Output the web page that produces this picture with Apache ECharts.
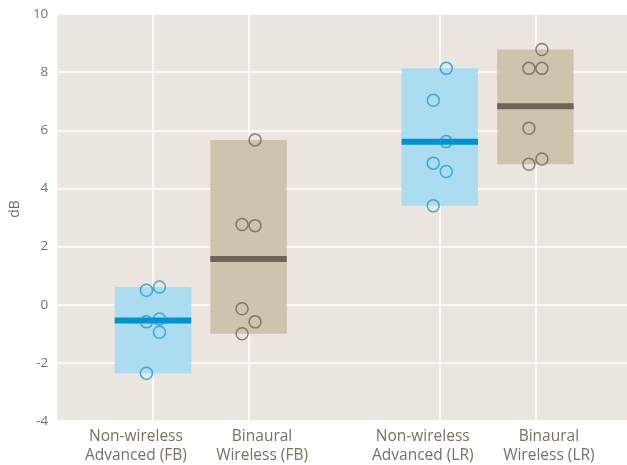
<!DOCTYPE html>
<html>
<head>
<meta charset="utf-8">
<script src="https://cdn.jsdelivr.net/npm/echarts@6/dist/echarts.min.js"></script>
<style>
  html, body { margin: 0; padding: 0; background: #fff; overflow: hidden; }
  /* plot runs past the right edge of the window in the original */
  #chart { width: 634px; height: 465px; }
</style>
</head>
<body>
<div id="chart"></div>
<script>
// category slots, '' = empty slot (gap)
var categories = ['', 'Non-wireless\nAdvanced (FB)', 'Binaural\nWireless (FB)', '', 'Non-wireless\nAdvanced (LR)', 'Binaural\nWireless (LR)', ''];
var yTicks = [-4, -2, 0, 2, 4, 6, 8, 10];

// individual results (dB) per group, side = which column of the jitter (-1 left, 1 right)
var fbNonWireless = [0.50, 0.61, -0.59, -0.49, -0.95, -2.36];
var fbNonWirelessSide = [-1, 1, -1, 1, 1, -1];
var fbBinaural = [5.67, 2.76, 2.72, -0.14, -0.59, -1.00];
var fbBinauralSide = [1, -1, 1, -1, 1, -1];
var lrNonWireless = [8.13, 7.03, 5.61, 4.87, 4.58, 3.40];
var lrNonWirelessSide = [1, -1, 1, -1, 1, -1];
var lrBinaural = [8.78, 8.13, 8.13, 6.07, 5.01, 4.83];
var lrBinauralSide = [1, -1, 1, -1, 1, -1];

var BLUE_BOX = '#a7daf1', BLUE_LINE = '#0091cf', BLUE_DOT = '#1d9ad6';
var TAN_BOX = '#cbbfa8', TAN_LINE = '#6f6456', TAN_DOT = '#6f6456';
var TEXT = '#7b6f64';

function slot(name) {
    return categories.indexOf(name);
}
function summary(name, vals) {
    var sum = 0;
    vals.forEach(function (v) { sum += v; });
    return [slot(name), Math.min.apply(null, vals), Math.max.apply(null, vals), sum / vals.length];
}
function dots(name, vals, side) {
    return vals.map(function (v, i) { return [slot(name) + side[i] * 0.068, v]; });
}

var boxRender = function (fill, line) {
    return function (params, api) {
        var x = api.value(0);
        var p1 = api.coord([x - 0.4, api.value(2)]);
        var p2 = api.coord([x + 0.4, api.value(1)]);
        var pm = api.coord([x - 0.4, api.value(3)]);
        return {
            type: 'group',
            children: [
                {type: 'rect', shape: {x: p1[0], y: p1[1], width: p2[0] - p1[0], height: p2[1] - p1[1]},
                    style: {fill: fill, opacity: 0.93}},
                {type: 'rect', shape: {x: p1[0], y: pm[1] - 3, width: p2[0] - p1[0], height: 6},
                    style: {fill: line}}
            ]
        };
    };
};

var chart = echarts.init(document.getElementById('chart'));
var option = {
    animation: false,
    textStyle: {fontFamily: 'Open Sans'},
    grid: {
        left: 52, right: 0, top: 14, bottom: 42,
        show: true, backgroundColor: '#ebe6df', borderWidth: 0
    },
    xAxis: [{
        type: 'category',
        data: categories,
        boundaryGap: false,
        axisLine: {show: false},
        axisTick: {show: false},
        axisLabel: {
            interval: 0, color: TEXT, fontSize: 15.5, lineHeight: 19, margin: 6,
            // the labels of a pair sit pushed apart from their boxes
            formatter: function (v, i) {
                if (!v) return '';
                var tag = (i === 1 || i === 4) ? 'l' : 'r';
                return v.split('\n').map(function (s) { return '{' + tag + '|' + s + '}'; }).join('\n');
            },
            rich: {
                l: {color: TEXT, fontSize: 15.5, lineHeight: 19, padding: [0, 34, 0, 0]},
                r: {color: TEXT, fontSize: 15.5, lineHeight: 19, padding: [0, 0, 0, 27]}
            }
        },
        splitLine: {
            show: true,
            interval: function (i, v) { return v !== ''; },
            lineStyle: {color: '#ffffff', width: 1.5}
        }
    }, {
        type: 'value',
        min: 0, max: categories.length - 1,
        show: false,
        splitLine: {show: false}
    }],
    yAxis: {
        type: 'value',
        min: yTicks[0], max: yTicks[yTicks.length - 1], interval: 2,
        name: 'dB',
        nameLocation: 'middle',
        nameGap: 32,
        nameTextStyle: {color: TEXT, fontSize: 14, padding: [0, 0, 0, 17]},
        axisLine: {show: false},
        axisTick: {show: false},
        axisLabel: {color: TEXT, fontSize: 13.5, margin: 9},
        splitLine: {lineStyle: {color: '#ffffff', width: 1.5}}
    },
    series: [{
        type: 'custom',
        xAxisIndex: 1,
        renderItem: boxRender(BLUE_BOX, BLUE_LINE),
        data: [summary(categories[1], fbNonWireless), summary(categories[4], lrNonWireless)]
    }, {
        type: 'custom',
        xAxisIndex: 1,
        renderItem: boxRender(TAN_BOX, TAN_LINE),
        data: [summary(categories[2], fbBinaural), summary(categories[5], lrBinaural)]
    }, {
        type: 'scatter',
        xAxisIndex: 1,
        symbol: 'circle',
        symbolSize: 12,
        itemStyle: {color: 'rgba(0,0,0,0)', borderColor: BLUE_DOT, borderWidth: 1.5},
        data: dots(categories[1], fbNonWireless, fbNonWirelessSide)
            .concat(dots(categories[4], lrNonWireless, lrNonWirelessSide))
    }, {
        type: 'scatter',
        xAxisIndex: 1,
        symbol: 'circle',
        symbolSize: 12,
        itemStyle: {color: 'rgba(0,0,0,0)', borderColor: TAN_DOT, borderWidth: 1.5},
        data: dots(categories[2], fbBinaural, fbBinauralSide)
            .concat(dots(categories[5], lrBinaural, lrBinauralSide))
    }]
};
chart.setOption(option);
</script>
</body>
</html>
